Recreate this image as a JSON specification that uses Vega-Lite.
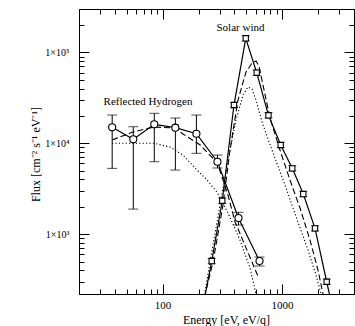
{
  "$schema": "https://vega.github.io/schema/vega-lite/v6.json",
  "width": 275,
  "height": 285,
  "autosize": "none",
  "padding": {"left": 79, "top": 9, "right": 1, "bottom": 32},
  "background": "white",
  "config": {
    "view": {"stroke": "black", "strokeWidth": 1},
    "font": "Liberation Serif",
    "axis": {
      "labelFont": "Liberation Serif",
      "titleFont": "Liberation Serif",
      "labelFontSize": 11,
      "titleFontSize": 12,
      "titleFontWeight": "normal",
      "labelColor": "black",
      "titleColor": "black",
      "tickColor": "black",
      "domainColor": "black",
      "tickWidth": 1,
      "grid": false
    }
  },
  "datasets": {
    "hydrogen": [
      {"e": 37.9, "flux": 14990, "lo": 5300, "hi": 20460},
      {"e": 56.9, "flux": 11060, "lo": 1890, "hi": 15210},
      {"e": 85.3, "flux": 16170, "lo": 6270, "hi": 21370},
      {"e": 128, "flux": 14840, "lo": 5080, "hi": 18970},
      {"e": 192, "flux": 12740, "lo": 7760, "hi": 20460},
      {"e": 288, "flux": 6270, "lo": 5350, "hi": 7430},
      {"e": 432, "flux": 1506, "lo": 1262, "hi": 1740},
      {"e": 648, "flux": 507, "lo": 447, "hi": 561}
    ],
    "solarwind": [
      {"e": 206, "flux": 110, "lo": 103, "hi": 118},
      {"e": 258, "flux": 507, "lo": 474, "hi": 542},
      {"e": 316, "flux": 2334, "lo": 2180, "hi": 2500},
      {"e": 396, "flux": 26360, "lo": 24600, "hi": 28200},
      {"e": 497, "flux": 142800, "lo": 133500, "hi": 152800},
      {"e": 614, "flux": 59750, "lo": 55800, "hi": 63900},
      {"e": 770, "flux": 20310, "lo": 18980, "hi": 21730},
      {"e": 974, "flux": 9572, "lo": 8950, "hi": 10240},
      {"e": 1218, "flux": 5303, "lo": 4960, "hi": 5670},
      {"e": 1506, "flux": 2766, "lo": 2585, "hi": 2960},
      {"e": 1887, "flux": 1160, "lo": 1085, "hi": 1240},
      {"e": 2364, "flux": 300, "lo": 280, "hi": 321},
      {"e": 2955, "flux": 78, "lo": 73, "hi": 83}
    ],
    "hydrogenDotted": [
      {"e": 37.8, "flux": 10000},
      {"e": 84.8, "flux": 10000},
      {"e": 115.5, "flux": 9100},
      {"e": 148.4, "flux": 7430},
      {"e": 194.3, "flux": 5080},
      {"e": 235.6, "flux": 3944},
      {"e": 285.6, "flux": 2910},
      {"e": 353, "flux": 1709},
      {"e": 444.8, "flux": 863},
      {"e": 539.4, "flux": 424},
      {"e": 605, "flux": 220},
      {"e": 654, "flux": 147}
    ],
    "hydrogenDashed": [
      {"e": 37.8, "flux": 10870},
      {"e": 56.6, "flux": 13300},
      {"e": 84.8, "flux": 15100},
      {"e": 127.2, "flux": 14720},
      {"e": 148.4, "flux": 12650},
      {"e": 206.8, "flux": 9570},
      {"e": 287.2, "flux": 6067},
      {"e": 353, "flux": 2697},
      {"e": 404, "flux": 1371},
      {"e": 632, "flux": 340}
    ],
    "solarDashed": [
      {"e": 205.8, "flux": 129},
      {"e": 264.4, "flux": 494},
      {"e": 320.6, "flux": 2094},
      {"e": 366.9, "flux": 8431},
      {"e": 428, "flux": 29920},
      {"e": 499.3, "flux": 60810},
      {"e": 560.4, "flux": 76390},
      {"e": 605.3, "flux": 80350},
      {"e": 641.3, "flux": 70800},
      {"e": 692.7, "flux": 43750},
      {"e": 792.9, "flux": 18970},
      {"e": 960.9, "flux": 8431},
      {"e": 1165, "flux": 3944},
      {"e": 1413, "flux": 1941},
      {"e": 1713, "flux": 863},
      {"e": 1999, "flux": 403},
      {"e": 2201, "flux": 220},
      {"e": 2332, "flux": 146.5}
    ],
    "solarDotted": [
      {"e": 209.8, "flux": 129},
      {"e": 249.6, "flux": 494},
      {"e": 302.6, "flux": 2094},
      {"e": 353, "flux": 6545},
      {"e": 411.9, "flux": 18030},
      {"e": 471.3, "flux": 33960},
      {"e": 518.9, "flux": 41590},
      {"e": 560.4, "flux": 39550},
      {"e": 605.3, "flux": 29920},
      {"e": 679.5, "flux": 17140},
      {"e": 823.8, "flux": 8431},
      {"e": 1058, "flux": 3475},
      {"e": 1359, "flux": 1361},
      {"e": 1649, "flux": 669.6},
      {"e": 1923, "flux": 355.4},
      {"e": 2118, "flux": 220},
      {"e": 2244, "flux": 146.5}
    ],
    "labels": [
      {"e": 449, "flux": 186800, "text": "Solar wind"},
      {"e": 75.6, "flux": 28440, "text": "Reflected Hydrogen"}
    ]
  },
  "resolve": {"axis": {"x": "independent", "y": "independent"}},
  "layer": [
    {
      "data": {"name": "hydrogenDotted"},
      "mark": {"type": "line", "color": "black", "strokeWidth": 1.1, "strokeDash": [1.2, 2.2], "clip": true},
      "encoding": {
        "x": {"field": "e", "type": "quantitative", "scale": {"type": "log", "domain": [20, 4000], "nice": false},
          "axis": {"orient": "bottom", "values": [100, 1000], "format": "d", "tickSize": -10, "labelPadding": 15,
            "title": "Energy [eV, eV/q]", "titleX": 147, "titleY": 29, "titleBaseline": "alphabetic"}},
        "y": {"field": "flux", "type": "quantitative", "scale": {"type": "log", "domain": [220, 300000], "nice": false},
          "axis": {"orient": "left", "values": [1000, 10000, 100000], "tickSize": -10, "labelPadding": 20, "labelFontSize": 10,
            "labelExpr": "'1×10' + (datum.value == 1000 ? '³' : datum.value == 10000 ? '⁴' : '⁵')",
            "title": "Flux [cm⁻² s⁻¹ eV⁻¹]", "titleX": -44, "titleY": 145, "titleBaseline": "middle"}}
      }
    },
    {
      "data": {"name": "hydrogenDashed"},
      "mark": {"type": "line", "color": "black", "strokeWidth": 1.1, "strokeDash": [6, 3], "clip": true},
      "encoding": {
        "x": {"field": "e", "type": "quantitative", "scale": {"type": "log", "domain": [20, 4000], "nice": false},
          "axis": {"orient": "bottom", "values": [30, 40, 50, 60, 70, 80, 90, 200, 300, 400, 500, 600, 700, 800, 900, 2000, 3000],
            "tickSize": -5, "labels": false, "domain": false, "title": null}},
        "y": {"field": "flux", "type": "quantitative", "scale": {"type": "log", "domain": [220, 300000], "nice": false},
          "axis": {"orient": "left", "values": [300, 400, 500, 600, 700, 800, 900, 2000, 3000, 4000, 5000, 6000, 7000, 8000, 9000, 20000, 30000, 40000, 50000, 60000, 70000, 80000, 90000, 200000],
            "tickSize": -5, "labels": false, "domain": false, "title": null}}
      }
    },
    {
      "data": {"name": "solarDotted"},
      "mark": {"type": "line", "color": "black", "strokeWidth": 1.1, "strokeDash": [1.2, 2.2], "clip": true},
      "encoding": {
        "x": {"field": "e", "type": "quantitative", "scale": {"type": "log", "domain": [20, 4000], "nice": false},
          "axis": {"orient": "top", "values": [100, 1000], "tickSize": -10, "labels": false, "title": null}},
        "y": {"field": "flux", "type": "quantitative", "scale": {"type": "log", "domain": [220, 300000], "nice": false},
          "axis": {"orient": "right", "values": [1000, 10000, 100000], "tickSize": -10, "labels": false, "title": null}}
      }
    },
    {
      "data": {"name": "solarDashed"},
      "mark": {"type": "line", "color": "black", "strokeWidth": 1.1, "strokeDash": [6, 3], "clip": true},
      "encoding": {
        "x": {"field": "e", "type": "quantitative", "scale": {"type": "log", "domain": [20, 4000], "nice": false},
          "axis": {"orient": "top", "values": [30, 40, 50, 60, 70, 80, 90, 200, 300, 400, 500, 600, 700, 800, 900, 2000, 3000],
            "tickSize": -5, "labels": false, "domain": false, "title": null}},
        "y": {"field": "flux", "type": "quantitative", "scale": {"type": "log", "domain": [220, 300000], "nice": false},
          "axis": {"orient": "right", "values": [300, 400, 500, 600, 700, 800, 900, 2000, 3000, 4000, 5000, 6000, 7000, 8000, 9000, 20000, 30000, 40000, 50000, 60000, 70000, 80000, 90000, 200000],
            "tickSize": -5, "labels": false, "domain": false, "title": null}}
      }
    },
    {
      "data": {"name": "hydrogen"},
      "mark": {"type": "errorbar", "color": "black", "clip": true, "ticks": {"size": 10, "thickness": 1}, "rule": {"strokeWidth": 1}},
      "encoding": {
        "x": {"field": "e", "type": "quantitative", "scale": {"type": "log", "domain": [20, 4000], "nice": false}, "axis": null},
        "y": {"field": "lo", "type": "quantitative", "scale": {"type": "log", "domain": [220, 300000], "nice": false}, "axis": null},
        "y2": {"field": "hi"}
      }
    },
    {
      "data": {"name": "solarwind"},
      "mark": {"type": "errorbar", "color": "black", "clip": true, "ticks": {"size": 8, "thickness": 1}, "rule": {"strokeWidth": 1}},
      "encoding": {
        "x": {"field": "e", "type": "quantitative", "scale": {"type": "log", "domain": [20, 4000], "nice": false}, "axis": null},
        "y": {"field": "lo", "type": "quantitative", "scale": {"type": "log", "domain": [220, 300000], "nice": false}, "axis": null},
        "y2": {"field": "hi"}
      }
    },
    {
      "data": {"name": "hydrogen"},
      "mark": {"type": "line", "color": "black", "strokeWidth": 1.2, "clip": true},
      "encoding": {
        "x": {"field": "e", "type": "quantitative", "scale": {"type": "log", "domain": [20, 4000], "nice": false}, "axis": null},
        "y": {"field": "flux", "type": "quantitative", "scale": {"type": "log", "domain": [220, 300000], "nice": false}, "axis": null}
      }
    },
    {
      "data": {"name": "solarwind"},
      "mark": {"type": "line", "color": "black", "strokeWidth": 1.2, "clip": true},
      "encoding": {
        "x": {"field": "e", "type": "quantitative", "scale": {"type": "log", "domain": [20, 4000], "nice": false}, "axis": null},
        "y": {"field": "flux", "type": "quantitative", "scale": {"type": "log", "domain": [220, 300000], "nice": false}, "axis": null}
      }
    },
    {
      "data": {"name": "hydrogen"},
      "mark": {"type": "point", "shape": "circle", "size": 50, "filled": true, "fill": "white", "stroke": "black", "strokeWidth": 1.1, "opacity": 1, "clip": true},
      "encoding": {
        "x": {"field": "e", "type": "quantitative", "scale": {"type": "log", "domain": [20, 4000], "nice": false}, "axis": null},
        "y": {"field": "flux", "type": "quantitative", "scale": {"type": "log", "domain": [220, 300000], "nice": false}, "axis": null}
      }
    },
    {
      "data": {"name": "solarwind"},
      "mark": {"type": "point", "shape": "square", "size": 28, "filled": true, "fill": "white", "stroke": "black", "strokeWidth": 1.1, "opacity": 1, "clip": true},
      "encoding": {
        "x": {"field": "e", "type": "quantitative", "scale": {"type": "log", "domain": [20, 4000], "nice": false}, "axis": null},
        "y": {"field": "flux", "type": "quantitative", "scale": {"type": "log", "domain": [220, 300000], "nice": false}, "axis": null}
      }
    },
    {
      "data": {"name": "labels"},
      "mark": {"type": "text", "font": "Liberation Serif", "fontSize": 11, "color": "black", "align": "center", "baseline": "middle"},
      "encoding": {
        "x": {"field": "e", "type": "quantitative", "scale": {"type": "log", "domain": [20, 4000], "nice": false}, "axis": null},
        "y": {"field": "flux", "type": "quantitative", "scale": {"type": "log", "domain": [220, 300000], "nice": false}, "axis": null},
        "text": {"field": "text"}
      }
    }
  ]
}
